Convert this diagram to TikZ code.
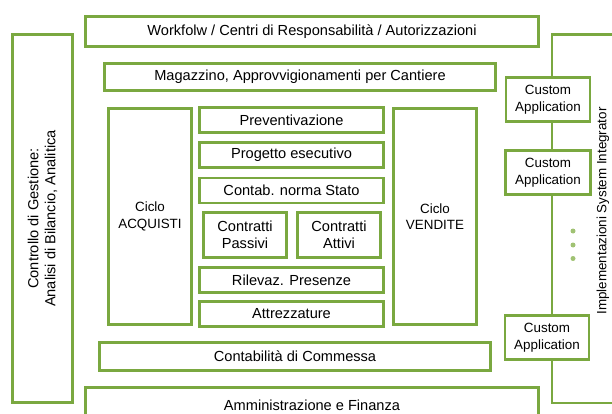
\documentclass[tikz,border=0pt]{standalone}
\usepackage{fontspec}
\setmainfont{Liberation Sans}
\definecolor{lgreen}{RGB}{122,168,64}
\definecolor{dgreen}{RGB}{160,194,115}
\begin{document}
\begin{tikzpicture}[x=1pt,y=-1pt,
  box/.style={draw=lgreen,line width=2.6pt,fill=white,inner sep=0pt,align=center,
    font=\fontsize{14.6}{17}\selectfont},
  smallbox/.style={box,font=\fontsize{13.4}{16.5}\selectfont},
  dotmark/.style={fill=dgreen,draw=none,circle,minimum size=5pt,inner sep=0pt}]
\useasboundingbox (0,0) rectangle (612,414);
\clip (0,0) rectangle (612,414);
% right bracket
\coordinate (tr) at (630,34.5);
\coordinate (tl) at (552,34.5);
\coordinate (bl) at (552,403);
\coordinate (br) at (630,403);
\draw[lgreen,line width=2.6pt] (tr) -- (tl) -- (bl) -- (br);
\node[rotate=90,font=\fontsize{13.4}{16}\selectfont] (impl) at (603,211) {Implementazioni System Integrator};
% left
\node[box,minimum width=368,minimum height=60,rotate=90] (ctrl) at (42.5,218.5) {Controllo di Gestione:\\Analisi di Bilancio, Analitica};
% top
\node[box,minimum width=453,minimum height=30] (wf) at (312,31.5) {Workfolw / Centri di Responsabilità / Autorizzazioni};
\node[box,minimum width=391,minimum height=27] (mag) at (300,77) {Magazzino, Approvvigionamenti per Cantiere};
% cycles
\node[smallbox,minimum width=83,minimum height=216] (acq) at (150,216.5) {Ciclo\\ACQUISTI};
\node[smallbox,minimum width=83,minimum height=216] (ven) at (435,216.5) {Ciclo\\VENDITE};
% middle column
\node[box,minimum width=184,minimum height=25] (prev) at (291.5,120) {Preventivazione};
\node[box,minimum width=184,minimum height=25] (prog) at (291.5,155) {Progetto esecutivo};
\node[box,minimum width=184,minimum height=25] (cns) at (291.5,190.5) {Contab. norma Stato};
\node[box,minimum width=83,minimum height=45] (cp) at (245,235) {Contratti\\Passivi};
\node[box,minimum width=83,minimum height=45] (ca) at (339,235) {Contratti\\Attivi};
\node[box,minimum width=184,minimum height=25] (ril) at (291.5,280) {Rilevaz. Presenze};
\node[box,minimum width=184,minimum height=25] (att) at (291.5,314) {Attrezzature};
% bottom
\node[box,minimum width=391,minimum height=28] (cc) at (295,356.5) {Contabilità di Commessa};
\node[box,minimum width=453,minimum height=35] (af) at (312,405) {Amministrazione e Finanza};
% custom applications
\node[smallbox,minimum width=84,minimum height=44] (c1) at (548,99.5) {Custom\\Application};
\node[smallbox,minimum width=85,minimum height=44] (c2) at (548,172.5) {Custom\\Application};
\node[smallbox,minimum width=84,minimum height=44] (c3) at (547,337.5) {Custom\\Application};
\node[dotmark] (d1) at (573,231) {};
\node[dotmark] (d2) at (573,245) {};
\node[dotmark] (d3) at (573,258.5) {};
\end{tikzpicture}
\end{document}
